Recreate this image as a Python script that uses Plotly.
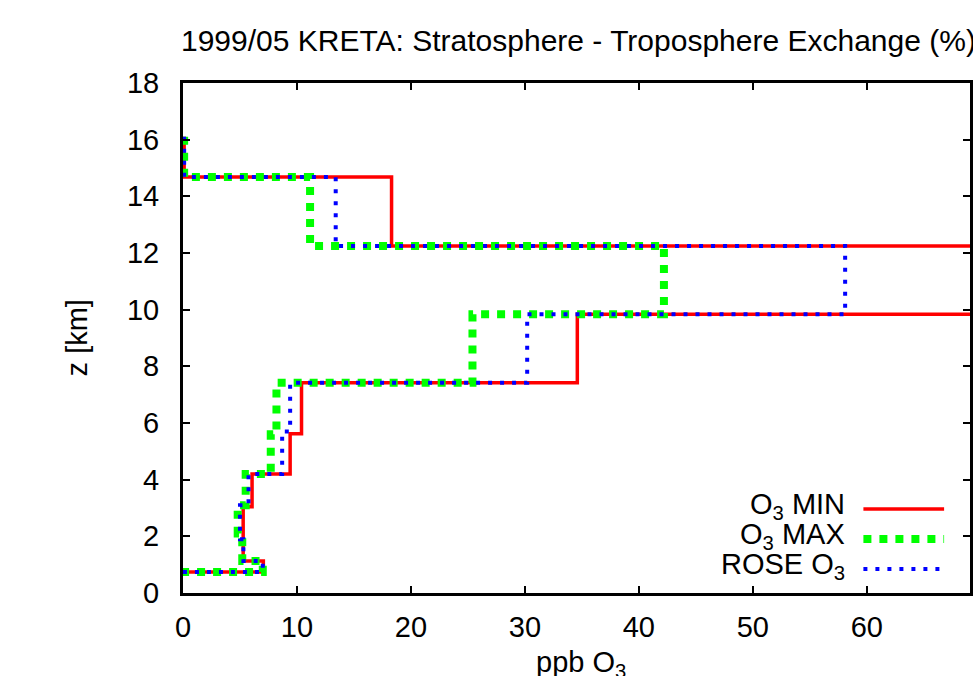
import plotly.graph_objects as go

# ---- data (ppb O3 per layer, z boundaries in km) ----
z_levels = [16.1, 14.68, 12.25, 9.84, 7.42, 5.62, 4.2, 3.04, 1.13, 0.74]

# red: O3 MIN  (value of each layer between successive levels)
min_vals = [0.1, 18.3, 75.0, 34.6, 10.4, 9.4, 6.06, 5.28, 7.05]
# green: O3 MAX
max_z = [16.1, 14.68, 12.25, 9.84, 7.42, 5.6, 4.2, 3.1, 2.1, 1.13, 0.74]
max_vals = [0.1, 11.15, 42.2, 25.4, 8.2, 7.7, 5.5, 4.8, 5.2, 7.0]
# blue: ROSE O3
rose_z = [16.1, 14.68, 12.25, 9.84, 7.42, 5.7, 4.2, 3.1, 1.9, 1.13, 0.74]
rose_vals = [0.1, 13.4, 58.1, 30.2, 9.4, 8.7, 5.75, 5.0, 5.3, 7.0]
bottom_end = 0.0  # final horizontal run back to the axis

names = ["O<sub>3</sub> MIN", "O<sub>3</sub> MAX", "ROSE O<sub>3</sub>"]


def steps(levels, vals):
    xs, ys = [], []
    for i, v in enumerate(vals):
        xs += [v, v]
        ys += [levels[i], levels[i + 1]]
    xs.append(bottom_end)
    ys.append(levels[-1])
    return xs, ys


W, H = 973, 676
L, R, T, B = 183, 0, 83, 83
px_per_unit = 11.44
xmax = (W - L - R) / px_per_unit

FONT = "Liberation Sans, Arial, Helvetica, sans-serif"
FS = 29

fig = go.Figure()
styles = [
    dict(color="#ff0000", width=3.5, dash="solid"),
    dict(color="#00ff00", width=8, dash="8px,8px"),
    dict(color="#0000ff", width=4, dash="4px,8px"),
]
for (lv, vv), st, nm in zip([(z_levels, min_vals), (max_z, max_vals), (rose_z, rose_vals)], styles, names):
    xs, ys = steps(lv, vv)
    fig.add_trace(go.Scatter(x=xs, y=ys, mode="lines", line=st, name=nm,
                             showlegend=False, cliponaxis=True))

pw = W - L - R
ph = H - T - B


def pxx(p):
    return (p - L) / pw


def pxy(p):
    return (H - B - p) / ph


# manual legend (gnuplot style: text left of the sample line)
rows = [509, 539, 569]
text_y = [506, 536, 566]
sample_end = [947, 947, 943]
for nm, st, ry, ty, se in zip(names, styles, rows, text_y, sample_end):
    fig.add_annotation(x=pxx(850), y=pxy(ty), xref="paper", yref="paper", text=nm,
                       showarrow=False, xanchor="right", yanchor="middle",
                       font=dict(family=FONT, size=FS, color="black"))
    fig.add_shape(type="line", xref="paper", yref="paper",
                  x0=pxx(866), x1=pxx(se), y0=pxy(ry), y1=pxy(ry),
                  line=dict(color=st["color"], width=st["width"], dash=st["dash"]))

# axis titles
fig.add_annotation(x=pxx(77), y=pxy(338), xref="paper", yref="paper", text="z [km]",
                   textangle=-90, showarrow=False, xanchor="center", yanchor="middle",
                   font=dict(family=FONT, size=FS, color="black"))
fig.add_annotation(x=pxx(583), y=pxy(664), xref="paper", yref="paper", text="ppb O<sub>3</sub>",
                   showarrow=False, xanchor="center", yanchor="middle",
                   font=dict(family=FONT, size=FS, color="black"))

axis_common = dict(showline=True, linewidth=3, linecolor="black", mirror="ticks",
                   ticks="inside", ticklen=7, tickwidth=2, tickcolor="black",
                   showgrid=False, zeroline=False,
                   tickfont=dict(family=FONT, size=FS, color="black"))

fig.update_layout(
    width=W, height=H,
    margin=dict(l=L, r=R, t=T, b=B, pad=0),
    paper_bgcolor="white", plot_bgcolor="white",
    title=dict(text="1999/05 KRETA: Stratosphere - Troposphere Exchange (%)",
               x=181 / W, xanchor="left", xref="container",
               y=1 - 40 / H, yanchor="middle", yref="container",
               font=dict(family=FONT, size=30, color="black")),
    xaxis=dict(range=[0, xmax], tickvals=[0, 10, 20, 30, 40, 50, 60, 70],
               ticklabelstandoff=6, **axis_common),
    yaxis=dict(range=[0, 18], tickvals=list(range(0, 19, 2)),
               ticklabelstandoff=15, **axis_common),
    showlegend=False,
)

fig.write_html("out.html")
